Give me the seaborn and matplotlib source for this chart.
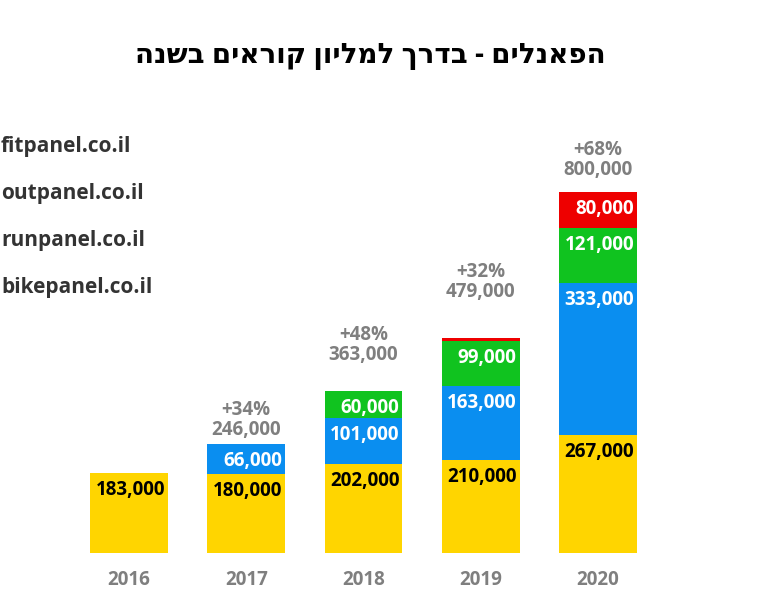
import matplotlib
matplotlib.use("Agg")
import matplotlib.pyplot as plt
import seaborn as sns
import numpy as np
import pandas as pd

# data
years = ["2016", "2017", "2018", "2019", "2020"]
sites = ["bikepanel.co.il", "runpanel.co.il", "outpanel.co.il", "fitpanel.co.il"]
bikepanel = [183000, 180000, 202000, 210000, 267000]
runpanel = [0, 66000, 101000, 163000, 333000]
outpanel = [0, 0, 60000, 99000, 121000]
fitpanel = [0, 0, 0, 7000, 80000]
totals = [183000, 246000, 363000, 479000, 800000]
growth = ["", "+34%", "+48%", "+32%", "+68%"]
title = "הפאנלים - בדרך למליון קוראים בשנה"

# styles
colors = ["#FFD500", "#0A8EF0", "#10C31F", "#EE0000"]
label_colors = ["black", "white", "white", "white"]
gray = "#7F7F7F"
bar_width = 0.665
total_gap_px = [0, 9, 31, 41, 17]  # gap between bar top and total label

sns.set_style("white")
plt.rcParams["font.family"] = ["Open Sans", "DejaVu Sans"]

fig = plt.figure(figsize=(7.59, 6), dpi=100)
ax = fig.add_axes([0, 47 / 600, 1, 553 / 600])

layers = [bikepanel, runpanel, outpanel, fitpanel]
cum = np.cumsum(np.array(layers), axis=0)
df = pd.DataFrame(cum.T, columns=sites)
df["year"] = years

# stacked bars: draw the tallest cumulative sums first
for k in range(len(sites) - 1, -1, -1):
    sns.barplot(data=df, x="year", y=sites[k], order=years, color=colors[k],
                saturation=1, width=bar_width, linewidth=0, ax=ax)

ax.set_xlim(-1.100, 5.373)
y_lo = 6593
ax.set_ylim(y_lo, y_lo + 553 / 0.000455)
ax.axis("off")

# value labels inside segments
for k, vals in enumerate(layers):
    for i, v in enumerate(vals):
        if v < 20000:
            continue
        ax.annotate(f"{v:,}", xy=(i + bar_width / 2, cum[k][i]), xycoords="data",
                    xytext=(-3, -22), textcoords="offset pixels",
                    ha="right", va="baseline", fontsize=13.5, fontweight="bold",
                    color=label_colors[k], annotation_clip=False)

# totals and growth above bars
for i in range(1, len(years)):
    top = cum[-1][i]
    ax.annotate(f"{totals[i]:,}", xy=(i, top), xytext=(0, total_gap_px[i]),
                textcoords="offset pixels", ha="center", va="baseline",
                fontsize=13.5, fontweight="bold", color=gray, annotation_clip=False)
    ax.annotate(growth[i], xy=(i, top), xytext=(0, total_gap_px[i] + 20),
                textcoords="offset pixels", ha="center", va="baseline",
                fontsize=13.5, fontweight="bold", color=gray, annotation_clip=False)

# year labels under bars
for i, yr in enumerate(years):
    ax.annotate(yr, xy=(i, y_lo), xytext=(0, -32), textcoords="offset pixels",
                ha="center", va="baseline", fontsize=13.5, fontweight="bold",
                color=gray, annotation_clip=False)

# site names on the left (top to bottom: fitpanel ... bikepanel)
for j, name in enumerate(reversed(sites)):
    fig.text(1 / 759, 1 - (152 + 47 * j) / 600, name, ha="left",
             va="baseline", fontsize=15, fontweight="bold", color="#333333")

# the reference shows the Hebrew letters in the opposite visual order
fig.text(370 / 759, 1 - 56 / 600, title[::-1], ha="center", va="center",
         fontsize=20, fontweight="bold", color="black")

fig.savefig("out.png", dpi=100)
